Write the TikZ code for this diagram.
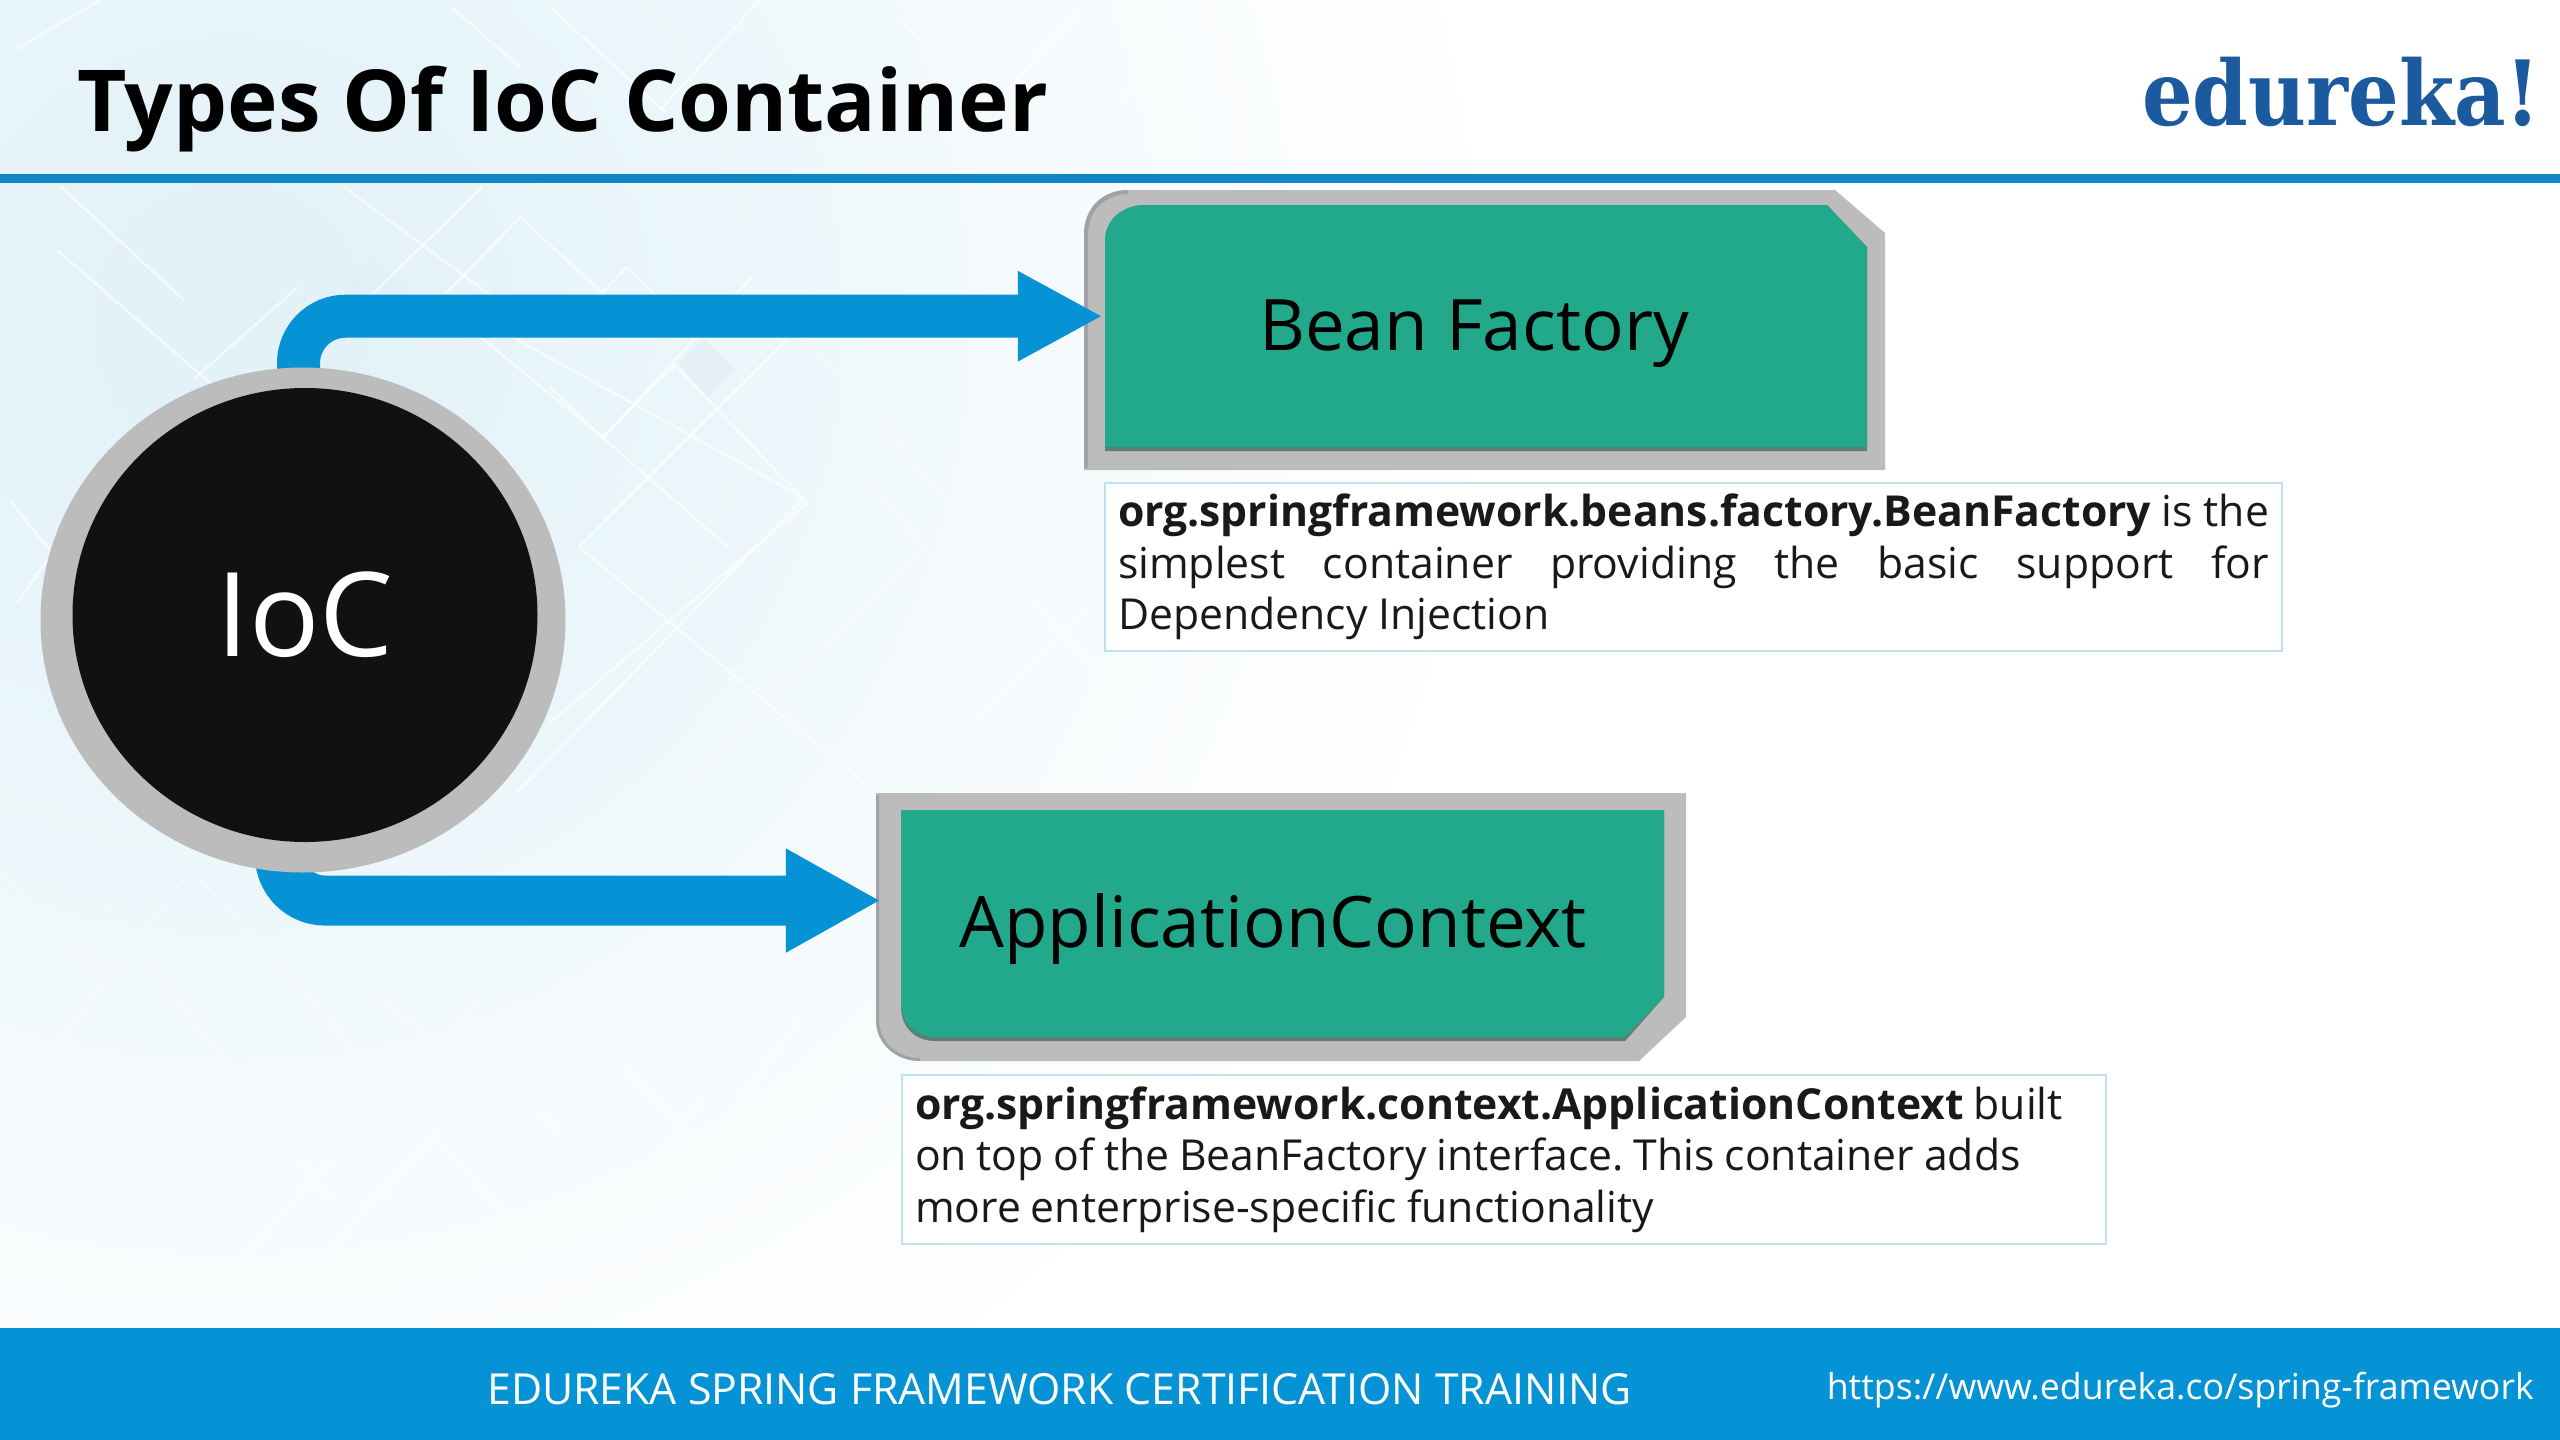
\documentclass[tikz,border=0pt]{standalone}
\usepackage{fontspec}
\setmainfont{Open Sans}
\newfontfamily\logofont[FakeStretch=0.885]{DejaVu Serif}
\usetikzlibrary{arrows.meta,shapes.geometric,calc}
\definecolor{railblue}{HTML}{0693D6}
\definecolor{rulebl}{HTML}{0F87C5}
\definecolor{logobl}{HTML}{1B5A9E}
\definecolor{framegray}{HTML}{BCBCBC}
\definecolor{frameedge}{HTML}{A2A2A2}
\definecolor{boxgreen}{HTML}{22A98B}
\definecolor{shadowgr}{HTML}{5E7D74}
\definecolor{discblack}{HTML}{111111}
\definecolor{boxline}{HTML}{BFE3EE}
\definecolor{glowa}{HTML}{E1F1F7}
\definecolor{glowb}{HTML}{EAF6FA}
\definecolor{glowc}{HTML}{F7FBFD}
\definecolor{patch}{HTML}{D4E0EC}
\pgfdeclareradialshading{bgglow}{\pgfpoint{0bp}{0bp}}{
  color(0bp)=(glowa); color(9bp)=(glowb); color(17bp)=(glowc); color(25bp)=(white); color(50bp)=(white)}
\pgfdeclarelayer{back}\pgfdeclarelayer{mid}
\pgfsetlayers{back,mid,main}
\tikzset{
  x=1pt,y=-1pt,
  labelbox/.style={rectangle,inner sep=0pt,anchor=base,font=\fontsize{71}{85}\selectfont,text=black},
  descbox/.style={rectangle,draw=boxline,line width=2pt,fill=white,anchor=north west,inner xsep=13pt,inner ysep=0pt,
     font=\fontsize{42.7}{51.4}\selectfont\frenchspacing,text=black!90},
  latt/.style={draw=white,line width=2.6pt,opacity=.6},
  lattfaint/.style={draw=white,line width=2.2pt,opacity=.35},
}
\begin{document}
\begin{tikzpicture}
\useasboundingbox (0,0) rectangle (2560,1440);
\begin{pgfonlayer}{back}
  \fill[white] (0,0) rectangle (2560,1440);
  \begin{scope}
    \clip (0,0) rectangle (2560,1440);
    \shade[shading=bgglow] (230,320) circle (1300);
    \fill[patch,opacity=.25] (679,363) -- (704,340) -- (736,370) -- (707,397) -- cycle;
    \fill[patch,opacity=.14] (345,287) -- (375,257) -- (410,290) -- (380,320) -- cycle;
    \foreach \xa/\ya/\xb/\yb in {
      57/250/247/415, 298/287/195/378, 448/310/603/438, 603/438/752/277, 505/333/804/498, 804/498/517/792,
      11/502/52/553, 52/553/17/603, 550/387/602/437, 602/437/675/365, 675/365/807/503, 807/503/550/723,
      579/547/714/412, 714/412/786/340, 579/547/864/783, 602/437/728/547, 100/0/15/50, 451/7/520/67, 550/7/666/113,
      61/187/184/300, 344/187/497/300, 482/187/367/300, 520/217/610/300, 520/217/440/300, 627/267/660/300, 627/267/595/300,
      760/0/660/110, 900/20/1010/120, 1080/10/990/110, 1220/0/1120/100}
      {\draw[latt] (\xa,\ya) -- (\xb,\yb);}
    \foreach \xa/\ya/\xb/\yb in {
      828/437/1007/640, 1007/640/882/773, 918/557/779/690, 779/690/686/787, 1086/610/907/790, 807/340/1120/700,
      0/870/110/980, 100/900/330/1200, 190/870/0/1120, 480/1000/230/1270, 570/980/320/1260, 200/880/520/1230,
      380/1000/560/1130, 520/1030/380/1200, 600/1040/720/1170, 800/1020/620/1260, 1030/1170/880/1330, 700/1100/550/1290}
      {\draw[lattfaint] (\xa,\ya) -- (\xb,\yb);}
  \end{scope}
  % frames
  \fill[framegray] (1084,234) .. controls (1084,208) and (1102,190) .. (1128,190) -- (1835,190) -- (1885,233) -- (1885,470) -- (1084,470) -- cycle;
  \draw[frameedge,line width=4pt] (1086,468) -- (1086,234) .. controls (1086,210) and (1104,192) .. (1128,192);
  \fill[shadowgr] (1105,246) .. controls (1105,222) and (1122,205) .. (1145,205) -- (1827,205) -- (1867,247) -- (1867,451) -- (1105,451) -- cycle;
  \fill[boxgreen] (1105,240) .. controls (1105,220) and (1122,205) .. (1145,205) -- (1827,205) -- (1867,247) -- (1867,447) -- (1105,447) -- cycle;
  \fill[framegray] (876,793) -- (1686,793) -- (1686,1017) -- (1639,1061) -- (920,1061) .. controls (896,1061) and (876,1044) .. (876,1020) -- cycle;
  \draw[frameedge,line width=3pt] (877.5,795) -- (877.5,1020) .. controls (877.5,1043) and (897,1059.5) .. (920,1059.5);
  \fill[shadowgr] (901,810) -- (1664,810) -- (1664,997) -- (1625,1041) -- (935,1041) .. controls (915,1041) and (901,1027) .. (901,1007) -- cycle;
  \fill[boxgreen] (901,810) -- (1664,810) -- (1664,997) -- (1625,1037) -- (935,1037) .. controls (915,1037) and (901,1023) .. (901,1003) -- cycle;
  % rails
  \fill[railblue] (0,1328) rectangle (2560,1440);
  \fill[rulebl] (0,174) rectangle (2560,183);
\end{pgfonlayer}

\node[ellipse,fill=framegray,inner sep=0pt,minimum width=525pt,minimum height=505pt] (ring) at (303,620) {};
\node[ellipse,fill=discblack,inner sep=0pt,minimum width=465pt,minimum height=454pt,text=white,font=\fontsize{117}{130}\selectfont] (ioc) at (305,615) {IoC};

\node[labelbox,minimum width=738pt] (bean) at (1474,350) {Bean Factory};
\node[labelbox,minimum width=784pt] (appctx) at (1273,947) {ApplicationContext};

\node[descbox,text width=1151pt,minimum height=168pt,align=justify] (beandesc) at (1104,482)
  {\textbf{org.springframework.beans.factory.BeanFactory} is the\linebreak simplest container providing the basic support for\linebreak Dependency Injection};
\node[descbox,text width=1178pt,minimum height=169pt,align=left] (appdesc) at (901,1074)
  {\spaceskip=.232em\relax\textbf{org.springframework.context.ApplicationContext} built\\ on top of the BeanFactory interface. This container adds\\ more enterprise-specific functionality};

\begin{pgfonlayer}{mid}
  \coordinate (beanstart) at ($(ring.north)+(-4.5,40)$);
  \coordinate (appstart) at ($(ring.south)+(-23,-40)$);
  \coordinate (beanport) at ($(bean.west)+(-2,-17)$);
  \coordinate (appport) at ($(appctx.west)+(0,-28)$);
  \draw[draw=railblue,-{Triangle[length=85pt,width=84pt,color=railblue]},line width=43pt,rounded corners=47pt] (beanstart) |- (beanport);
  \draw[draw=railblue,-{Triangle[length=95pt,width=97pt,color=railblue]},line width=50pt,rounded corners=45pt] (appstart) |- (appport);
\end{pgfonlayer}

\node[anchor=base west,inner sep=0pt,font=\fontsize{85.5}{100}\bfseries\selectfont,text=black] (title) at (77,131) {Types Of IoC Container};
\node[anchor=base east,inner sep=0pt,font=\fontsize{90}{100}\logofont\bfseries\selectfont,text=logobl] (logo) at (2541,125) {edureka!};
\node[anchor=base west,inner sep=0pt,font=\fontsize{42.8}{50}\selectfont,text=white] (foot) at (487,1404) {EDUREKA SPRING FRAMEWORK CERTIFICATION TRAINING};
\node[anchor=base east,inner sep=0pt,font=\fontsize{35.7}{50}\selectfont,text=white] (url) at (2534,1399) {https://www.edureka.co/spring-framework};
\end{tikzpicture}
\end{document}
